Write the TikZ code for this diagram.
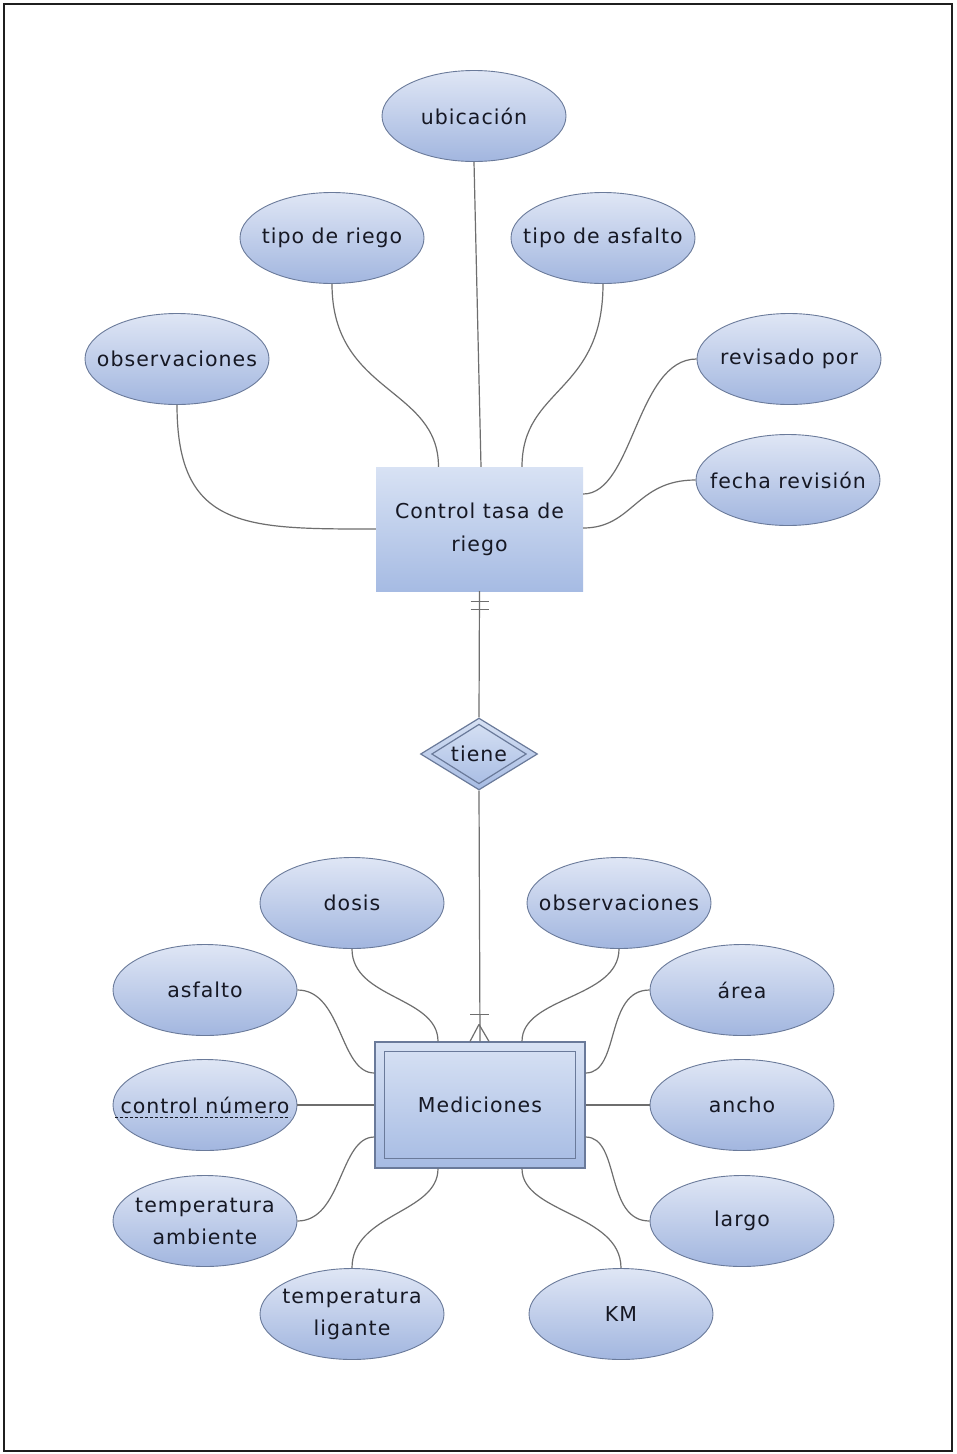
\documentclass[tikz,border=0pt]{standalone}
\usepackage{fontspec}
\setmainfont{DejaVu Sans}[LetterSpace=5]
\usetikzlibrary{shapes.geometric,calc}

\definecolor{attrtop}{HTML}{DFE6F5}
\definecolor{attrbot}{HTML}{A2B6DF}
\definecolor{enttop}{HTML}{D8E2F4}
\definecolor{entbot}{HTML}{A6BBE3}
\definecolor{edgeblue}{HTML}{6A7A9A}
\definecolor{linkgray}{HTML}{6E6E6E}
\definecolor{txt}{HTML}{161824}

\tikzset{
  attr/.style={ellipse, draw=edgeblue, line width=0.9pt, top color=attrtop, bottom color=attrbot,
    minimum width=184pt, minimum height=91pt, inner xsep=-70pt, inner ysep=-18pt,
    text=txt, align=center, font=\fontsize{20.5}{32}\selectfont},
  entity/.style={rectangle, top color=enttop, bottom color=entbot, draw=none,
    inner sep=0pt, text=txt, align=center, font=\fontsize{20.5}{33}\selectfont},
  weakbox/.style={rectangle, draw=edgeblue, line width=1.2pt, top color=enttop, bottom color=entbot,
    minimum width=210pt, minimum height=126pt, inner sep=0pt},
  relbox/.style={diamond, draw=edgeblue, line width=1.2pt, top color=enttop, bottom color=entbot,
    minimum width=117pt, minimum height=66pt, inner sep=0pt, text=txt,
    font=\fontsize{20.5}{32}\selectfont},
  link/.style={draw=linkgray, line width=1.2pt},
  innerline/.style={draw=edgeblue, line width=1.2pt}
}

\begin{document}
\begin{tikzpicture}[x=1pt,y=-1pt]
  % page and frame
  \fill[white] (0,0) rectangle (956,1454);
  \useasboundingbox (0,0) rectangle (956,1454);
  \draw[line width=2pt, color={black!88}] (3.5,3.5) rectangle (951.5,1450.5);

  % ---------- Control tasa de riego ----------
  \node[entity, minimum width=207pt, minimum height=124pt] (ctr) at (479.5,529) {Control tasa de\\riego};

  \node[attr] (ubic) at (474,116) {ubicación};
  \node[attr] (triego) at (332,238) {tipo de riego};
  \node[attr] (tasf) at (603,238) {tipo de asfalto};
  \node[attr] (obs1) at (177,359) {observaciones};
  \node[attr] (rev) at (789,359) {revisado por};
  \node[attr] (frev) at (788,480) {fecha revisión};

  \coordinate (ctrA) at ($(ctr.north)+(-41,0)$);
  \coordinate (ctrB) at ($(ctr.north)+(1.5,0)$);
  \coordinate (ctrC) at ($(ctr.north)+(42.5,0)$);
  \coordinate (ctrR1) at ($(ctr.east)+(0,-35)$);
  \coordinate (ctrR2) at ($(ctr.east)+(0,-1)$);

  \draw[link] (ubic.south) -- (ctrB);
  \draw[link] (triego.south) .. controls ($(triego.south)+(0,110)$) and ($(ctrA)+(0,-80)$) .. (ctrA);
  \draw[link] (tasf.south) .. controls ($(tasf.south)+(0,110)$) and ($(ctrC)+(0,-80)$) .. (ctrC);
  \draw[link] (obs1.south) .. controls ($(obs1.south)+(0,125)$) and ($(ctr.west)+(-130,0)$) .. (ctr.west);
  \draw[link] (rev.west) .. controls ($(rev.west)+(-60,0)$) and ($(ctrR1)+(50,0)$) .. (ctrR1);
  \draw[link] (frev.west) .. controls ($(frev.west)+(-60,0)$) and ($(ctrR2)+(50,0)$) .. (ctrR2);

  % ---------- relationship ----------
  \node[relbox] (rel) at (479,754) {tiene};
  \draw[innerline] ($(rel.north)+(0,7)$) -- ($(rel.east)+(-12,0)$) -- ($(rel.south)+(0,-7)$) -- ($(rel.west)+(12,0)$) -- cycle;

  % ---------- Mediciones (weak entity) ----------
  \node[weakbox] (med) at (480,1105) {};
  \draw[innerline] ($(med.north west)+(10,10)$) rectangle ($(med.south east)+(-10,-10)$);
  \node[text=txt, font=\fontsize{20.5}{32}\selectfont] (medtxt) at (med.center) {Mediciones};

  % one side: mandatory one
  \draw[link] (ctr.south) -- (rel.north);
  \draw[link] ($(ctr.south)+(-9,10)$) -- ($(ctr.south)+(9,10)$);
  \draw[link] ($(ctr.south)+(-9,18)$) -- ($(ctr.south)+(9,18)$);
  % many side: one or many
  \coordinate (fork) at ($(med.north)+(-1,-17)$);
  \draw[link] (rel.south) -- (med.north);
  \draw[link] ($(med.north)+(-10,-27)$) -- ($(med.north)+(9,-27)$);
  \draw[link] (fork) -- ($(med.north)+(-10,0)$);
  \draw[link] (fork) -- ($(med.north)+(9,0)$);

  \node[attr] (dosis) at (352,903) {dosis};
  \node[attr] (obs2) at (619,903) {observaciones};
  \node[attr] (asf) at (205,990) {asfalto};
  \node[attr] (area) at (742,990) {área};
  \node[attr] (cnum) at (205,1105) {control número};
  \node[attr] (ancho) at (742,1105) {ancho};
  \node[attr] (tamb) at (205,1221) {temperatura\\ambiente};
  \node[attr] (largo) at (742,1221) {largo};
  \node[attr] (tlig) at (352,1314) {temperatura\\ligante};
  \node[attr] (km) at (621,1314) {KM};

  % partial key underline
  \draw[txt, line width=1pt, dash pattern=on 3pt off 2pt] ($(cnum.center)+(-90,12)$) -- ($(cnum.center)+(85,12)$);

  \coordinate (mTL) at ($(med.north)+(-42,0)$);
  \coordinate (mTR) at ($(med.north)+(42,0)$);
  \coordinate (mBL) at ($(med.south)+(-42,0)$);
  \coordinate (mBR) at ($(med.south)+(42,0)$);
  \coordinate (mL1) at ($(med.west)+(0,-32)$);
  \coordinate (mL3) at ($(med.west)+(0,32)$);
  \coordinate (mR1) at ($(med.east)+(0,-32)$);
  \coordinate (mR3) at ($(med.east)+(0,32)$);

  \draw[link] (dosis.south) .. controls ($(dosis.south)+(0,50)$) and ($(mTL)+(0,-45)$) .. (mTL);
  \draw[link] (obs2.south) .. controls ($(obs2.south)+(0,50)$) and ($(mTR)+(0,-45)$) .. (mTR);
  \draw[link] (asf.east) .. controls ($(asf.east)+(45,0)$) and ($(mL1)+(-35,0)$) .. (mL1);
  \draw[link] (area.west) .. controls ($(area.west)+(-45,0)$) and ($(mR1)+(35,0)$) .. (mR1);
  \draw[link] (cnum.east) -- (med.west);
  \draw[link] (ancho.west) -- (med.east);
  \draw[link] (tamb.east) .. controls ($(tamb.east)+(45,0)$) and ($(mL3)+(-35,0)$) .. (mL3);
  \draw[link] (largo.west) .. controls ($(largo.west)+(-45,0)$) and ($(mR3)+(35,0)$) .. (mR3);
  \draw[link] (tlig.north) .. controls ($(tlig.north)+(0,-55)$) and ($(mBL)+(0,45)$) .. (mBL);
  \draw[link] (km.north) .. controls ($(km.north)+(0,-55)$) and ($(mBR)+(0,45)$) .. (mBR);
\end{tikzpicture}
\end{document}
